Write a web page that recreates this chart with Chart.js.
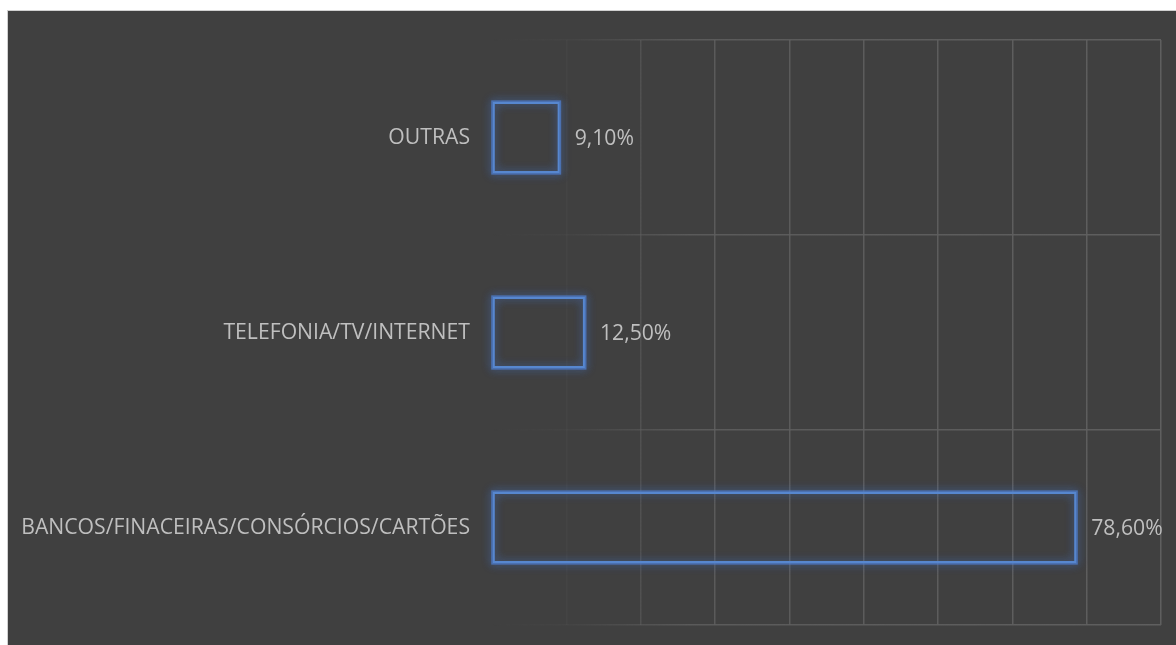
<!DOCTYPE html>
<html>
<head>
<meta charset="utf-8">
<script src="https://cdn.jsdelivr.net/npm/chart.js@4/dist/chart.umd.min.js"></script>
<style>
  html, body { margin: 0; padding: 0; background: #ffffff; }
  #frame {
    position: absolute; left: 7px; top: 10px;
    width: 1169px; height: 635px;
    border-top: 1px solid #d0d0d0; border-left: 1px solid #d0d0d0;
    background: #404040;
  }
  canvas { display: block; }
</style>
</head>
<body>
<div id="frame"><canvas id="c" width="1168" height="634"></canvas></div>
<script>
// Share of complaints by sector (%)
const categories = ['OUTRAS', 'TELEFONIA/TV/INTERNET', 'BANCOS/FINACEIRAS/CONSÓRCIOS/CARTÕES'];
const shares = [9.1, 12.5, 78.6];
const axisMax = 90;
const axisStep = 10;

const FONT = '"Open Sans", Lato, sans-serif';
const FONT_SIZE = 21.2;
const TEXT = '#bfbfbf';
const BAR_BLUE = '#5787cf';

// grid lines fade in from the left edge of the plot
function fadedGrid(ctx) {
  const chart = ctx.chart;
  const a = chart.chartArea;
  if (!a) return '#595959';
  const g = chart.ctx.createLinearGradient(a.left, 0, a.right, 0);
  g.addColorStop(0, 'rgba(95,95,95,0)');
  g.addColorStop(0.12, 'rgba(95,95,95,0.15)');
  g.addColorStop(0.3, 'rgba(95,95,95,0.85)');
  g.addColorStop(1, 'rgba(95,95,95,1)');
  return g;
}

// soft blue glow around each bar outline
const glowPlugin = {
  id: 'glow',
  beforeDatasetsDraw(chart) {
    const ctx = chart.ctx;
    const meta = chart.getDatasetMeta(0);
    ctx.save();
    ctx.shadowColor = 'rgba(70,120,210,0.9)';
    ctx.shadowBlur = 10;
    ctx.strokeStyle = 'rgba(80,130,215,0.45)';
    ctx.lineWidth = 3;
    meta.data.forEach(bar => {
      const p = bar.getProps(['x', 'y', 'base', 'height'], true);
      const left = Math.min(p.base, p.x), right = Math.max(p.base, p.x);
      ctx.strokeRect(left, p.y - p.height / 2, right - left, p.height);
      ctx.strokeRect(left, p.y - p.height / 2, right - left, p.height);
    });
    ctx.restore();
  }
};

// value labels after each bar end
const valueLabels = {
  id: 'valueLabels',
  afterDatasetsDraw(chart) {
    const ctx = chart.ctx;
    const meta = chart.getDatasetMeta(0);
    ctx.save();
    ctx.font = FONT_SIZE + 'px ' + FONT;
    ctx.fillStyle = TEXT;
    ctx.textAlign = 'left';
    ctx.textBaseline = 'middle';
    meta.data.forEach((bar, i) => {
      const p = bar.getProps(['x', 'y'], true);
      const txt = shares[i].toFixed(2).replace('.', ',') + '%';
      ctx.fillText(txt, p.x + 15, p.y + 1);
    });
    ctx.restore();
  }
};

new Chart(document.getElementById('c'), {
  type: 'bar',
  data: {
    labels: categories,
    datasets: [{
      data: shares,
      backgroundColor: 'rgba(0,0,0,0)',
      borderColor: BAR_BLUE,
      borderWidth: 2,
      borderSkipped: false,
      barPercentage: 0.365,
      categoryPercentage: 1
    }]
  },
  options: {
    indexAxis: 'y',
    responsive: false,
    animation: false,
    layout: { padding: { top: 29, right: 15, bottom: 20, left: 0 } },
    plugins: { legend: { display: false }, tooltip: { enabled: false } },
    scales: {
      x: {
        min: 0, max: axisMax,
        afterFit(scale) { scale.height = 0; scale.paddingLeft = 0; scale.paddingRight = 0; },
        ticks: { display: false, stepSize: axisStep },
        grid: { color: fadedGrid, lineWidth: 1.5, drawTicks: false },
        border: { display: false }
      },
      y: {
        offset: true,
        afterFit(scale) {
          scale.width = 484;
          scale.paddingTop = 0;
          scale.paddingBottom = 0;
        },
        ticks: {
          color: TEXT,
          font: { family: FONT, size: FONT_SIZE },
          padding: 22
        },
        grid: { color: fadedGrid, lineWidth: 1.5, drawTicks: false, offset: true },
        border: { display: false }
      }
    }
  },
  plugins: [glowPlugin, valueLabels]
});
</script>
</body>
</html>
